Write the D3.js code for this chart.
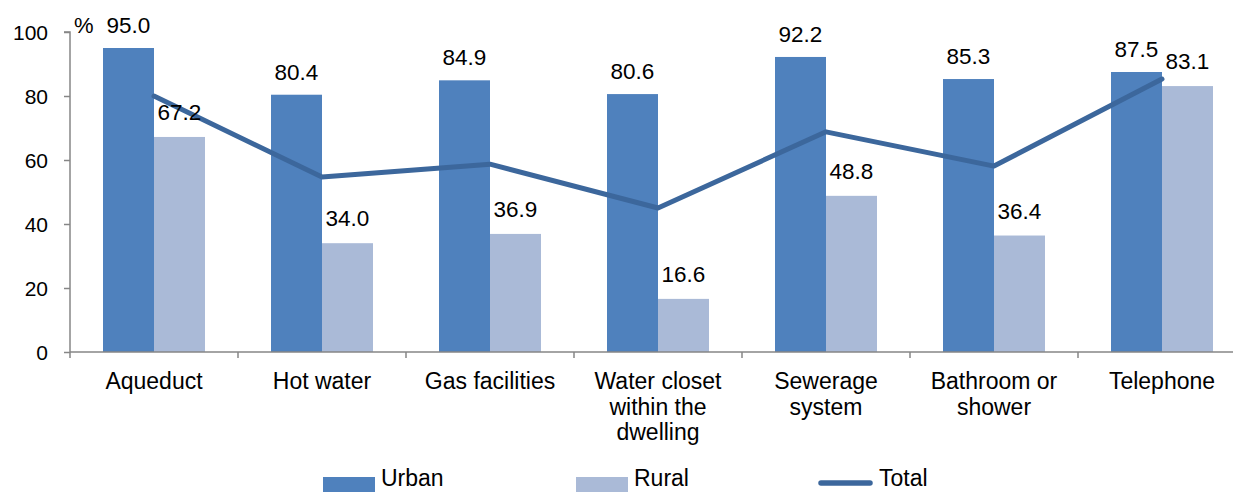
<!DOCTYPE html>
<html>
<head>
<meta charset="utf-8">
<script src="https://cdn.jsdelivr.net/npm/d3@7"></script>
<style>
  body { margin: 0; background: #fff; }
  svg { display: block; font-family: "Liberation Sans", Arial, sans-serif; }
</style>
</head>
<body>
<div id="chart"></div>
<script>
// data
const categories = ["Aqueduct", "Hot water", "Gas facilities", "Water closet within the dwelling", "Sewerage system", "Bathroom or shower", "Telephone"];
const categoryLines = [["Aqueduct"], ["Hot water"], ["Gas facilities"], ["Water closet", "within the", "dwelling"], ["Sewerage", "system"], ["Bathroom or", "shower"], ["Telephone"]];
const urban = [95.0, 80.4, 84.9, 80.6, 92.2, 85.3, 87.5];
const rural = [67.2, 34.0, 36.9, 16.6, 48.8, 36.4, 83.1];
const total = [80.0, 54.7, 58.7, 45.0, 68.8, 58.1, 85.3];
const yTicks = [0, 20, 40, 60, 80, 100];

const width = 1233, height = 492;
const margin = {left: 70, top: 32};
const plotW = 168 * 7; // right side runs past the window, as in the source
const plotBottom = 352;

const colUrban = "#4f81bd", colRural = "#aabad7", colTotal = "#3c679c", axisCol = "#868686";

const svg = d3.select("#chart").append("svg")
    .attr("width", width)
    .attr("height", height);

const x = d3.scaleBand().domain(categories).range([margin.left, margin.left + plotW]);
const y = d3.scaleLinear().domain([0, 100]).range([plotBottom, margin.top]);
const barW = 51;
const cx = d => x(d) + x.bandwidth() / 2;

// y axis
const yAxis = svg.append("g").attr("transform", `translate(${margin.left},0)`)
    .call(d3.axisLeft(y).tickValues(yTicks).tickSize(6).tickPadding(16).tickFormat(d3.format("d")));
yAxis.select(".domain").attr("stroke", axisCol).attr("stroke-width", 1.5).attr("d", `M-6,${y(100)}H0V${y(0)}`);
yAxis.selectAll(".tick line").attr("stroke", axisCol).attr("stroke-width", 1.5);
yAxis.selectAll(".tick text").attr("font-size", 21).attr("fill", "#000")
    .attr("font-family", "Liberation Sans, Arial, sans-serif").attr("dy", "0.36em");

svg.append("text").attr("x", 74).attr("y", 33).attr("font-size", 22).text("%");

// bars
const g = svg.append("g");
g.selectAll("rect.urban").data(categories).join("rect")
    .attr("class", "urban")
    .attr("x", d => cx(d) - barW)
    .attr("y", (d, i) => y(urban[i]))
    .attr("width", barW)
    .attr("height", (d, i) => y(0) - y(urban[i]))
    .attr("fill", colUrban);
g.selectAll("rect.rural").data(categories).join("rect")
    .attr("class", "rural")
    .attr("x", d => cx(d))
    .attr("y", (d, i) => y(rural[i]))
    .attr("width", barW)
    .attr("height", (d, i) => y(0) - y(rural[i]))
    .attr("fill", colRural);

// x axis
const xAxis = svg.append("g").attr("transform", `translate(0,${plotBottom})`);
xAxis.append("line").attr("x1", margin.left).attr("x2", margin.left + plotW)
    .attr("stroke", axisCol).attr("stroke-width", 1.5);
xAxis.selectAll("line.tk").data(d3.range(8)).join("line")
    .attr("class", "tk")
    .attr("x1", i => margin.left + i * x.step()).attr("x2", i => margin.left + i * x.step())
    .attr("y1", 0).attr("y2", 6)
    .attr("stroke", axisCol).attr("stroke-width", 1.5);

const labels = xAxis.selectAll("text").data(categories).join("text")
    .attr("x", cx)
    .attr("y", 37)
    .attr("text-anchor", "middle")
    .attr("font-size", 23);
labels.each(function(d, i) {
    d3.select(this).selectAll("tspan").data(categoryLines[i]).join("tspan")
        .attr("x", cx(d))
        .attr("dy", (t, j) => j === 0 ? 0 : 25.5)
        .text(t => t);
});

// total line
const line = d3.line()
    .x((d, i) => cx(categories[i]))
    .y(d => y(d));
svg.append("path").datum(total)
    .attr("d", line)
    .attr("fill", "none")
    .attr("stroke", colTotal)
    .attr("stroke-width", 5)
    .attr("stroke-linecap", "round")
    .attr("stroke-linejoin", "round");

// value labels
const fmt = d3.format(".1f");
svg.append("g").selectAll("text").data(urban).join("text")
    .attr("x", (d, i) => cx(categories[i]) - barW / 2)
    .attr("y", d => y(d) - 15)
    .attr("text-anchor", "middle")
    .attr("font-size", 22.5)
    .text(d => fmt(d));
svg.append("g").selectAll("text").data(rural).join("text")
    .attr("x", (d, i) => cx(categories[i]) + barW / 2)
    .attr("y", d => y(d) - 17)
    .attr("text-anchor", "middle")
    .attr("font-size", 22.5)
    .text(d => fmt(d));

// legend
const legend = svg.append("g");
legend.append("rect").attr("x", 323).attr("y", 477).attr("width", 52).attr("height", 15).attr("fill", colUrban);
legend.append("text").attr("x", 381).attr("y", 486).attr("font-size", 23).text("Urban");
legend.append("rect").attr("x", 576).attr("y", 477).attr("width", 52).attr("height", 15).attr("fill", colRural);
legend.append("text").attr("x", 634).attr("y", 486).attr("font-size", 23).text("Rural");
legend.append("line").attr("x1", 821).attr("x2", 870).attr("y1", 483).attr("y2", 483)
    .attr("stroke", colTotal).attr("stroke-width", 5.5).attr("stroke-linecap", "round");
legend.append("text").attr("x", 879).attr("y", 486).attr("font-size", 23).text("Total");
</script>
</body>
</html>
